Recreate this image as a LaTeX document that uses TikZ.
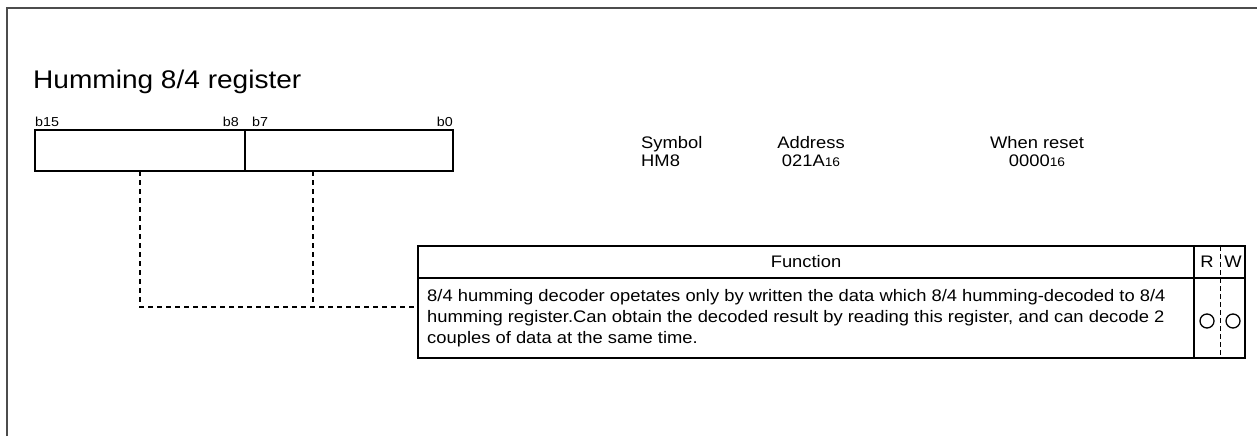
\documentclass[tikz,border=0pt]{standalone}
\usepackage{fontspec}
\setmainfont{Liberation Sans}
\newfontfamily\widesans[FakeStretch=1.1]{Liberation Sans}
\usetikzlibrary{positioning}

\begin{document}
\begin{tikzpicture}[x=1pt, y=-1pt]
        % Style definitions
        \tikzset{
            frame/.style={draw=black!70, line width=2pt},
            cell/.style={draw, line width=2pt, inner sep=0pt, outer sep=0pt},
            tap/.style={black, line width=1.8pt, dash pattern=on 5pt off 4pt},
            guide/.style={black, line width=0.9pt, dash pattern=on 5pt off 3pt},
            bitlbl/.style={font=\widesans\fontsize{13}{13}\selectfont, inner sep=0pt},
            info/.style={font=\widesans\fontsize{16.7}{18}\selectfont, inner sep=0pt, align=center},
            flag/.style={draw, line width=1.3pt, circle, minimum size=14pt, inner sep=0pt}
        }
        \useasboundingbox (0,0) rectangle (1257,436);

        % ==========================================
        % FRAME AND TITLE
        % ==========================================
        \draw[frame] (7,436) -- (7,8) -- (1257,8);
        \node[anchor=base west, inner sep=0pt, font=\widesans\fontsize{25.5}{27}\selectfont] (title) at (33,88) {Humming 8/4 register};

        % ==========================================
        % REGISTER (b15 .. b0)
        % ==========================================
        \node[cell, minimum width=210pt, minimum height=41pt] (hi) at (140,150.5) {};
        \node[cell, minimum width=208pt, minimum height=41pt] (lo) at (349,150.5) {};
        \node[bitlbl, anchor=base west] (b15) at (35,126) {b15};
        \node[bitlbl, anchor=base east] (b8) at (239,126) {b8};
        \node[bitlbl, anchor=base west] (b7) at (252,126) {b7};
        \node[bitlbl, anchor=base east] (b0) at (453,126) {b0};

        % ==========================================
        % SYMBOL / ADDRESS / RESET
        % ==========================================
        \node[info, anchor=north west, align=left] (sym) at (641,136) {Symbol\\HM8};
        \node[info, anchor=north] (addr) at (811,136) {Address\\021A{\fontsize{12.5}{12}\selectfont 16}};
        \node[info, anchor=north] (rst) at (1037,136) {When reset\\0000{\fontsize{12.5}{12}\selectfont 16}};

        % ==========================================
        % FUNCTION TABLE
        % ==========================================
        \node[cell, minimum width=776pt, minimum height=32pt, font=\widesans\fontsize{16.7}{18}\selectfont] (func) at (806,262) {Function};
        \node[cell, minimum width=776pt, minimum height=80pt, anchor=north west] (desc) at (func.south west) {};
        \node[cell, minimum width=51pt, minimum height=32pt, anchor=north west] (rwhead) at (func.north east) {};
        \node[cell, minimum width=51pt, minimum height=80pt, anchor=north west] (rwbody) at (rwhead.south west) {};
        \node[anchor=west, inner sep=0pt, align=left, font=\widesans\fontsize{16.7}{21}\selectfont] (text) at ([xshift=9pt]desc.west)
            {8/4 humming decoder opetates only by written the data which 8/4 humming-decoded to 8/4\\
             humming register.Can obtain the decoded result by reading this register, and can decode 2\\
             couples of data at the same time.};
        \node[font=\widesans\fontsize{16.7}{18}\selectfont, inner sep=0pt] (rlbl) at (1207,262) {R};
        \node[font=\widesans\fontsize{16.7}{18}\selectfont, inner sep=0pt] (wlbl) at (1233,262) {W};
        \draw[guide] (1220,246) -- (1220,358);
        \node[flag] (rflag) at (1207,321) {};
        \node[flag] (wflag) at (1233,321) {};

        % ==========================================
        % DASHED LEADERS
        % ==========================================
        \coordinate (tapL) at (313,171);
        \coordinate (join) at (418,307);
        \draw[tap] (hi.south) |- (join);
        \draw[tap] (tapL) -- (tapL |- join);
    \end{tikzpicture}
\end{document}
